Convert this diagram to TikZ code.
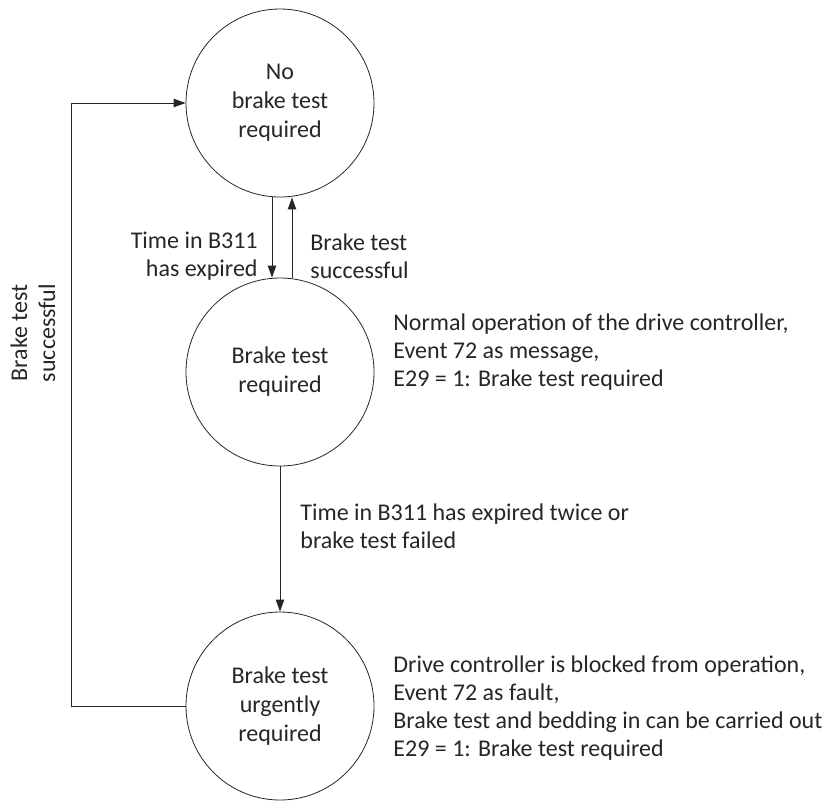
\documentclass[tikz,border=0pt]{standalone}
\usepackage{fontspec}
\setmainfont{Carlito}
\usepackage{tikz}
\usetikzlibrary{arrows.meta, positioning}
\usepackage{xcolor}
\definecolor{inkgray}{HTML}{262626}

\begin{document}
\begin{tikzpicture}[
  x=0.5pt, y=-0.5pt,
  state/.style={draw=inkgray, circle, minimum size=94pt, inner sep=0pt,
    align=center, font=\fontsize{12}{14.5}\selectfont, text=inkgray},
  note/.style={font=\fontsize{12}{14}\selectfont, text=inkgray,
    inner sep=0pt},
  arr/.style={-{Triangle[length=6pt, width=4.2pt]}, inkgray, line width=0.5pt}
]
  \useasboundingbox (0,0) rectangle (825,800);

  % States
  \node[state] (none) at (280, 103) {No\\brake test\\required};
  \node[state] (req)  at (280, 372) {Brake test\\required};
  \node[state] (urg)  at (280, 706) {Brake test\\urgently\\required};

  % Transitions
  \draw[arr] ([xshift=-4pt]none.south) -- ([xshift=-4pt]req.north);
  \draw[arr] ([xshift=6pt]req.north) -- ([xshift=6pt]none.south);
  \draw[arr] (req.south) -- (urg.north);
  \draw[arr] (urg.west) -- ++(-114,0) |- (none.west);

  % Transition labels
  \node[note, anchor=east, align=right] (lexp) at (258, 256)
    {Time in B311\\has expired};
  \node[note, anchor=west, align=left] (lok) at (310, 256)
    {Brake test\\successful};
  \node[note, anchor=west, align=left] (ltwice) at (300, 526)
    {Time in B311 has expired twice or\\brake test failed};
  \node[note, rotate=90, align=center] (lback) at (33, 333)
    {Brake test\\successful};

  % State descriptions
  \node[note, anchor=west, align=left] (dreq) at (393, 352)
    {Normal operation of the drive controller,\\Event 72 as message,\\E29 = 1: Brake test required};
  \node[note, anchor=west, align=left] (durg) at (393, 708)
    {Drive controller is blocked from operation,\\Event 72 as fault,\\Brake test and bedding in can be carried out\\E29 = 1: Brake test required};
\end{tikzpicture}
\end{document}
